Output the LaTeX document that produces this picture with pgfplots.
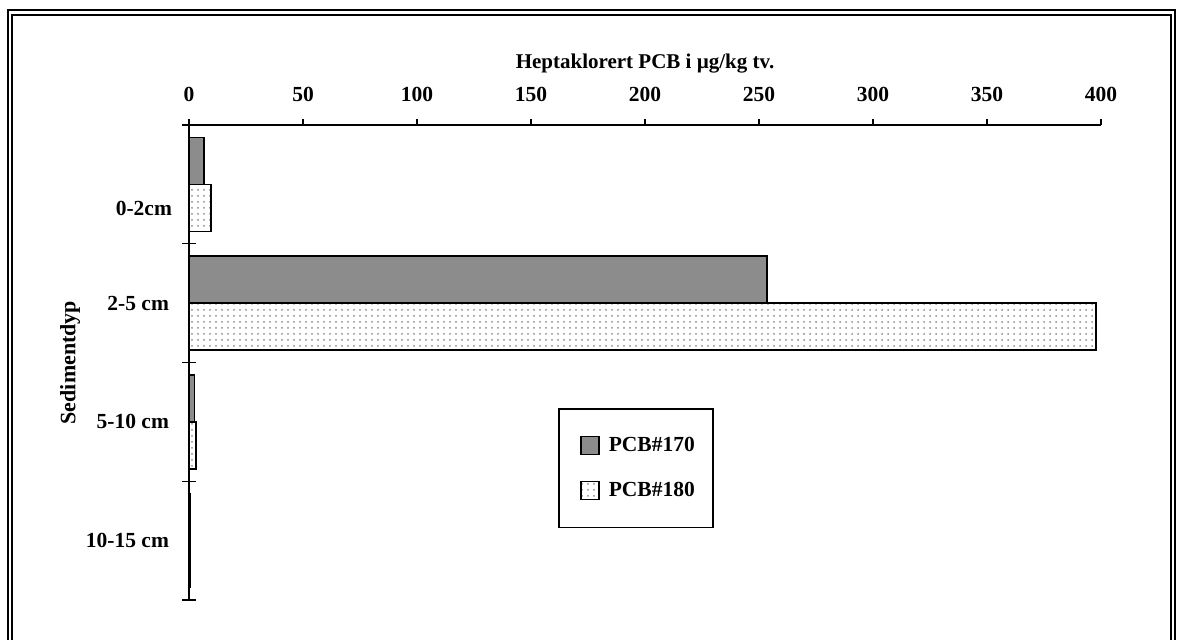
\documentclass[border=0pt]{standalone}
\usepackage{fontspec}
\setmainfont{Liberation Serif}
\usepackage{pgfplots}
\pgfplotsset{compat=1.18}
\usetikzlibrary{patterns}
\begin{document}
\begin{tikzpicture}
\useasboundingbox (0pt,0pt) rectangle (588.5pt,-320pt);
\draw[line width=1.2pt] (4pt,-5pt) rectangle (587.5pt,-350pt);
\draw[line width=0.6pt] (6pt,-7.5pt) rectangle (585.5pt,-347.5pt);
\begin{axis}[
  at={(94.5pt,-62.5pt)}, anchor=north west,
  scale only axis, width=456pt, height=237.5pt,
  xbar, bar width=23.5pt,
  y dir=reverse,
  xmin=0, xmax=400, ymin=-0.5, ymax=3.5,
  axis x line=top, axis y line=left,
  axis line style={-, line width=0.8pt},
  xtick={0,50,...,400},
  x tick style={black, line width=0.6pt}, xtick align=outside, major tick length=3pt,
  ytick={1,2,3}, yticklabels={2-5 cm,5-10 cm,10-15 cm},
  extra y ticks={0.2}, extra y tick labels={0-2cm},
  extra y tick style={major tick length=0pt},
  y tick style={draw=none},
  minor ytick={-0.5,0.5,1.5,2.5,3.5},
  minor tick length=7pt,
  minor y tick style={black, line width=0.6pt, draw=black},
  ytick align=center,
  /pgf/number format/assume math mode=true,
  ticklabel style={font=\fontsize{10.75}{12}\selectfont\bfseries},
  xticklabel style={yshift=5pt},
  yticklabel style={xshift=-5pt},
  xlabel={Heptaklorert PCB i µg/kg tv.},
  xlabel style={font=\fontsize{10.5}{12}\selectfont\bfseries, yshift=0.5pt},
  ylabel={Sedimentdyp},
  ylabel style={font=\fontsize{11}{12}\selectfont\bfseries, yshift=-5.5pt},
  legend style={at={(0.405,0.404)}, anchor=north west, draw=black, line width=0.8pt,
    font=\fontsize{10.75}{12}\selectfont\bfseries, row sep=10pt,
    inner xsep=8pt, inner ysep=12pt, text width=42pt},
  legend image code/.code={\draw[#1, line width=0.6pt] (2.5pt,-4.5pt) rectangle (11.5pt,4.5pt); \path (0pt,0pt) (14pt,0pt);},
  legend cell align=left,
]
\addplot[draw=black, fill=black!45, line width=0.8pt, bar shift=11.75pt] coordinates {(6.5,0) (253.5,1) (2.4,2) (0.5,3)};
\addplot[draw=black, fill=white, postaction={pattern=dots, pattern color=black!45}, line width=0.8pt, bar shift=-11.75pt] coordinates {(9.7,0) (397.8,1) (3.0,2) (0.5,3)};
\legend{PCB\#170, PCB\#180}
\end{axis}
\end{tikzpicture}
\end{document}
